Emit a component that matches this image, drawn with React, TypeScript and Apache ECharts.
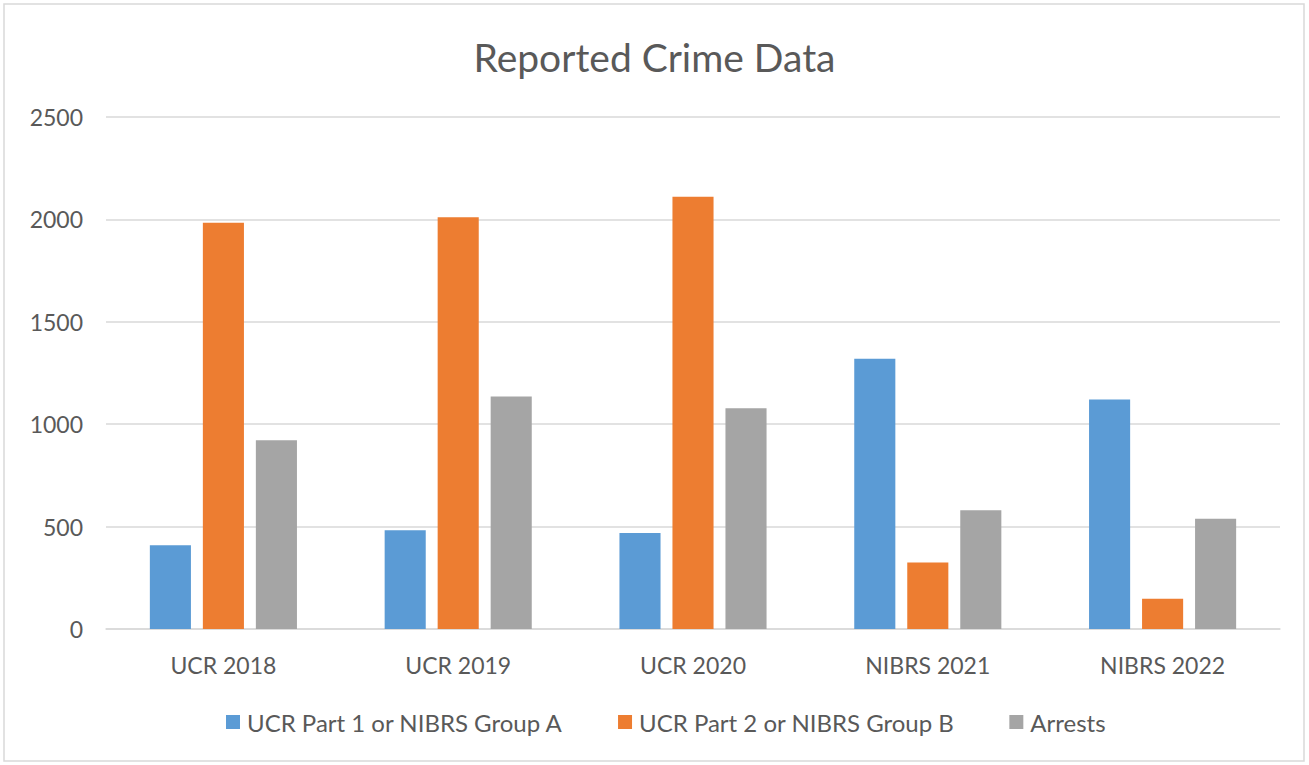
import React, { useEffect, useRef } from "react";
import * as echarts from "echarts";

const categories = ["UCR 2018", "UCR 2019", "UCR 2020", "NIBRS 2021", "NIBRS 2022"];
const seriesNames = ["UCR Part 1 or NIBRS Group A", "UCR Part 2 or NIBRS Group B", "Arrests"];
const groupA = [409, 482, 469, 1320, 1121];
const groupB = [1984, 2010, 2111, 325, 148];
const arrests = [922, 1135, 1078, 580, 538];
const colors = ["#5B9BD5", "#ED7D31", "#A5A5A5"];
const FONT = "Lato, 'Open Sans', sans-serif";

export default function App() {
  const ref = useRef<HTMLDivElement>(null);
  useEffect(() => {
    const chart = echarts.init(ref.current!, null, { renderer: "svg" });
    const values = [groupA, groupB, arrests];
    chart.setOption({
      animation: false,
      backgroundColor: "#ffffff",
      title: {
        text: "Reported Crime Data",
        left: "center",
        top: 32,
        textStyle: { fontFamily: FONT, fontSize: 39, fontWeight: "normal", color: "#595959" },
      },
      graphic: [
        {
          type: "rect",
          shape: { x: 4, y: 4, width: 1300, height: 757 },
          style: { fill: "none", stroke: "#d9d9d9", lineWidth: 1.5 },
          silent: true,
        },
      ],
      legend: {
        top: 705,
        left: 221,
        itemWidth: 14,
        itemHeight: 14,
        itemGap: 55,
        icon: "rect",
        textStyle: { fontFamily: FONT, fontSize: 24, color: "#595959", padding: [0, 0, 0, 2] },
        data: seriesNames,
      },
      grid: { left: 106, right: 29, top: 117, bottom: 136, containLabel: false },
      xAxis: {
        type: "category",
        data: categories,
        axisTick: { show: false },
        axisLine: { lineStyle: { color: "#d9d9d9", width: 1.5 } },
        axisLabel: { fontFamily: FONT, fontSize: 23, color: "#595959", margin: 24 },
      },
      yAxis: {
        type: "value",
        min: 0,
        max: 2500,
        interval: 500,
        axisLine: { show: false },
        axisTick: { show: false },
        splitLine: { lineStyle: { color: "#d9d9d9", width: 1.5 } },
        axisLabel: {
          fontFamily: FONT,
          fontSize: 23,
          color: "#595959",
          margin: 23,
          formatter: (v: number) => String(v),
        },
      },
      series: seriesNames.map((name, i) => ({
        name,
        type: "bar",
        data: values[i],
        barWidth: "17.5%",
        barGap: "29%",
        itemStyle: { color: colors[i] },
      })),
    });
    return () => chart.dispose();
  }, []);
  return <div ref={ref} style={{ position: "fixed", left: 0, top: 0, width: 1309, height: 765 }} />;
}
